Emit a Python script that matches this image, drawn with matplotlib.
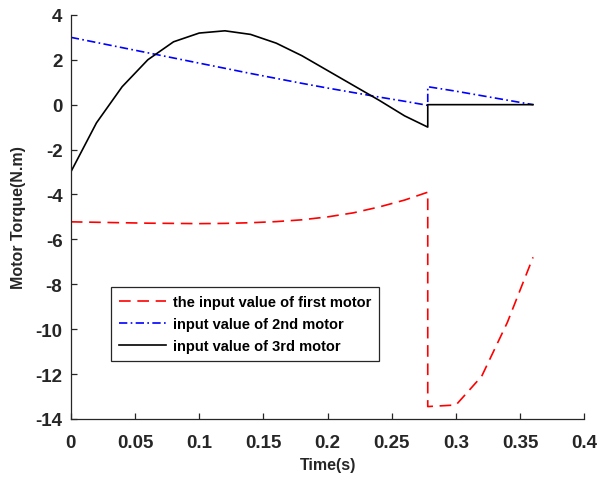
import matplotlib
matplotlib.use("Agg")
import matplotlib.pyplot as plt

# tiempos de muestreo (s)
t_pre = [0.0, 0.02, 0.04, 0.06, 0.08, 0.10, 0.12, 0.14, 0.16, 0.18,
         0.20, 0.22, 0.24, 0.26, 0.278]
t_post = [0.278, 0.30, 0.32, 0.34, 0.36]

# motor 1 (rojo, discontinuo)
m1_pre = [-5.22, -5.24, -5.26, -5.28, -5.29, -5.30, -5.29, -5.26, -5.21, -5.13,
          -5.00, -4.82, -4.56, -4.25, -3.90]
m1_post = [-13.45, -13.38, -12.10, -9.70, -6.80]

# motor 2 (azul, punto-raya)
m2_pre = [3.00, 2.77, 2.54, 2.31, 2.08, 1.85, 1.62, 1.39, 1.17, 0.95,
          0.74, 0.54, 0.34, 0.15, -0.03]
m2_post = [0.80, 0.60, 0.40, 0.20, 0.00]

# motor 3 (negro, continuo)
m3_pre = [-3.00, -0.81, 0.80, 2.00, 2.80, 3.19, 3.29, 3.13, 2.74, 2.18,
          1.52, 0.86, 0.20, -0.50, -1.00]
m3_post = [0.0, 0.0, 0.0, 0.0, 0.0]

labels = ["the input value of first motor",
          "input value of 2nd motor",
          "input value of 3rd motor"]

xticks = [0, 0.05, 0.1, 0.15, 0.2, 0.25, 0.3, 0.35, 0.4]
xticklabels = ["0", "0.05", "0.1", "0.15", "0.2", "0.25", "0.3", "0.35", "0.4"]
yticks = [-14, -12, -10, -8, -6, -4, -2, 0, 2, 4]

plt.rcParams["font.family"] = ["Liberation Sans", "DejaVu Sans"]
plt.rcParams["font.weight"] = "bold"
plt.rcParams["axes.unicode_minus"] = False
GRIS = "#262626"

fig = plt.figure(figsize=(6.0, 4.81), dpi=100)
ax = fig.add_axes([0.118, 0.127, 0.856, 0.840])

lw = 1.2
ax.plot(t_pre + t_post, m1_pre + m1_post, color="#ff0000", lw=lw,
        dashes=(7, 4), label=labels[0])
ax.plot(t_pre + t_post, m2_pre + m2_post, color="#0000ff", lw=lw,
        dashes=(5, 2, 1, 2), label=labels[1])
ax.plot(t_pre + t_post, m3_pre + m3_post, color="black", lw=lw,
        label=labels[2])

ax.set_xlim(0, 0.4)
ax.set_ylim(-14, 4)
ax.set_xticks(xticks)
ax.set_xticklabels(xticklabels)
ax.set_yticks(yticks)

for s in ("top", "right"):
    ax.spines[s].set_visible(False)
for s in ("left", "bottom"):
    ax.spines[s].set_color(GRIS)
    ax.spines[s].set_linewidth(0.9)

ax.tick_params(direction="in", length=4, width=0.9, colors=GRIS,
               labelsize=13.5)
ax.tick_params(axis="x", pad=11)
ax.tick_params(axis="y", pad=6)
for lab in ax.get_xticklabels() + ax.get_yticklabels():
    lab.set_fontweight("bold")

ax.set_xlabel("Time(s)", fontsize=11.5, fontweight="bold", color=GRIS, labelpad=4)
ax.set_ylabel("Motor Torque(N.m)", fontsize=11.5, fontweight="bold", color=GRIS,
              labelpad=7)

leg = ax.legend(loc="upper left", bbox_to_anchor=(0.078, 0.326),
                borderaxespad=0, fancybox=False, framealpha=1,
                edgecolor=GRIS, handlelength=3.2,
                prop={"weight": "bold", "size": 10.5},
                labelspacing=0.55, borderpad=0.55, handletextpad=0.5)
leg.get_frame().set_linewidth(0.9)
for txt in leg.get_texts():
    txt.set_color("black")

fig.savefig("out.png", dpi=100, facecolor="white")
